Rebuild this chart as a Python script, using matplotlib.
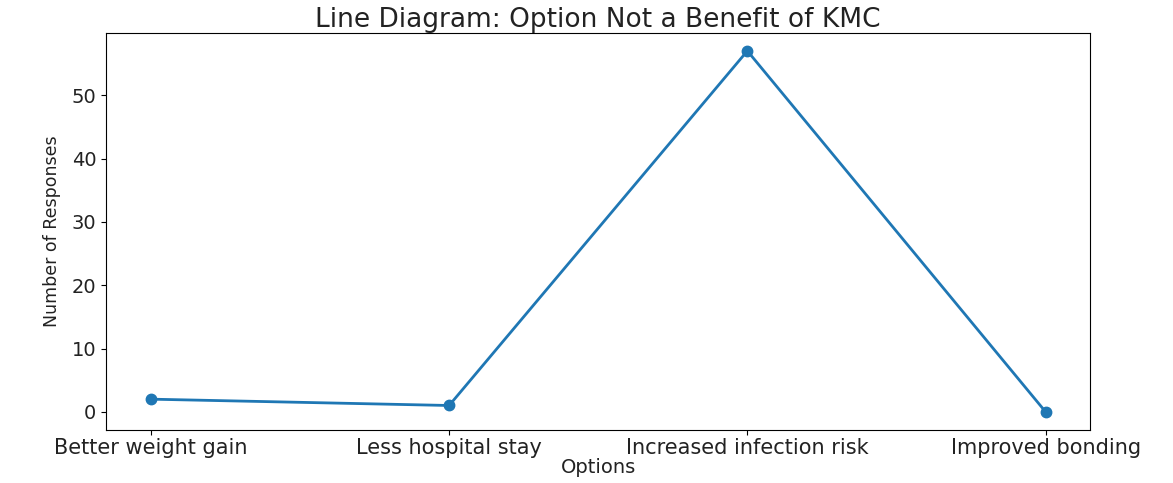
import matplotlib
matplotlib.use("Agg")
import matplotlib.pyplot as plt

options = ["Better weight gain", "Less hospital stay", "Increased infection risk", "Improved bonding"]
responses = [2, 1, 57, 0]

fig = plt.figure(figsize=(11.73, 4.83), dpi=100)
ax = fig.add_axes([0.0905, 0.11, 0.839, 0.822])

ax.plot(options, responses, marker="o", color="#1f77b4", linewidth=2, markersize=7.5)

ax.set_title("Line Diagram: Option Not a Benefit of KMC", fontsize=19, pad=4, color="#222222")
ax.set_xlabel("Options", fontsize=14, labelpad=0, color="#222222")
ax.set_ylabel("Number of Responses", fontsize=12.5, labelpad=8, color="#222222")
ax.tick_params(axis="x", labelsize=15, pad=2, labelcolor="#222222")
ax.tick_params(axis="y", labelsize=14, labelcolor="#222222")

fig.savefig("out.png", dpi=100)
